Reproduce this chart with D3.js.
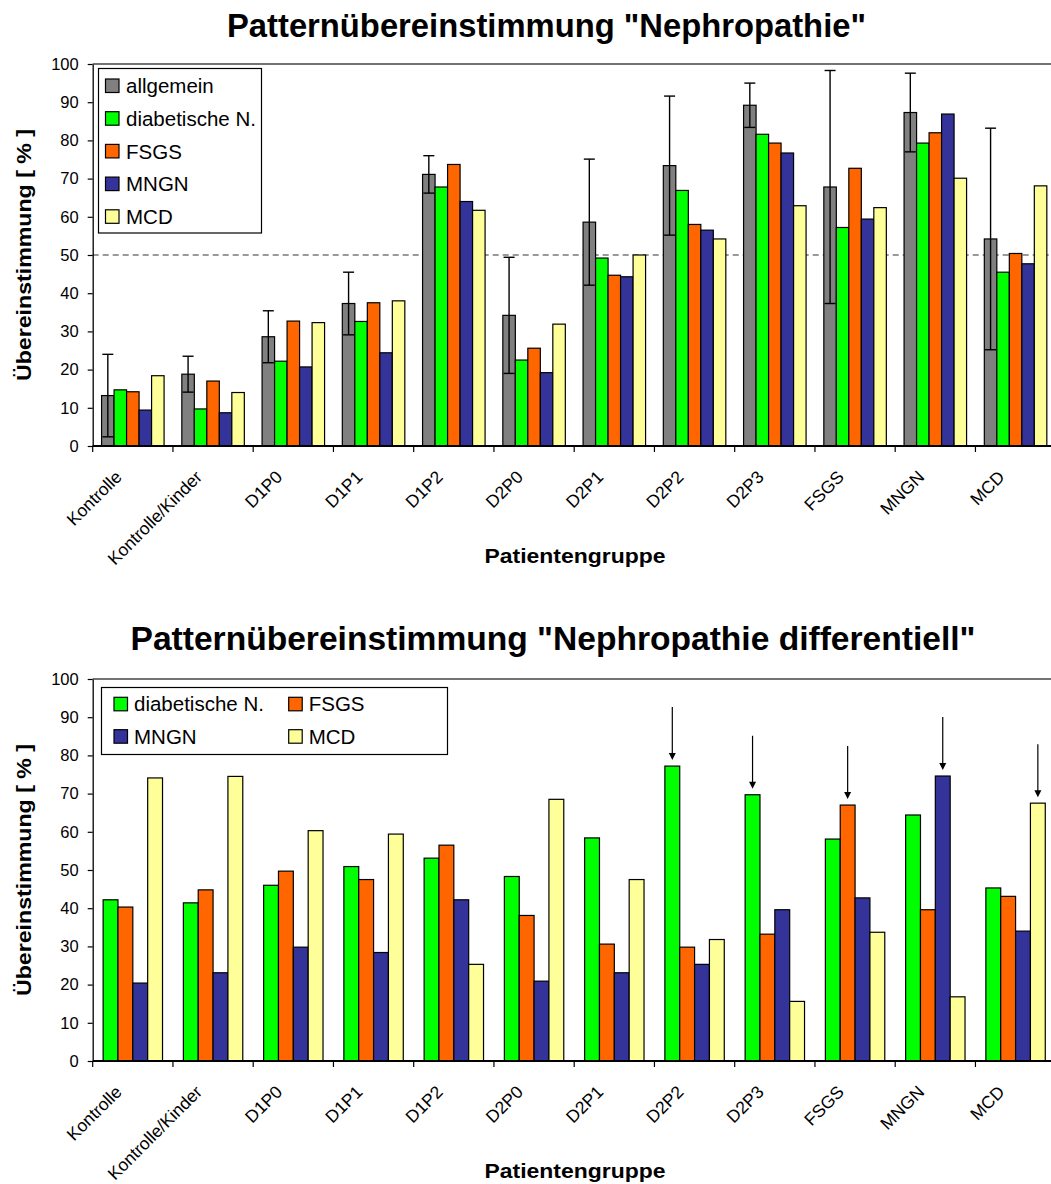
<!DOCTYPE html>
<html>
<head>
<meta charset="utf-8">
<script src="https://cdn.jsdelivr.net/npm/d3@7/dist/d3.min.js"></script>
<style>
  html, body { margin: 0; padding: 0; background: #fff; }
  svg { display: block; font-family: "Liberation Sans", Arial, sans-serif; }
</style>
</head>
<body>
<svg id="fig" width="1051" height="1184"></svg>
<script>
// ---- data ----
const categories = ["Kontrolle", "Kontrolle/Kinder", "D1P0", "D1P1", "D1P2", "D2P0",
                    "D2P1", "D2P2", "D2P3", "FSGS", "MNGN", "MCD"];
const yTicks = [0, 10, 20, 30, 40, 50, 60, 70, 80, 90, 100];

// chart 1: "Nephropathie"
const seriesTop = ["allgemein", "diabetische N.", "FSGS", "MNGN", "MCD"];
const topAllgemein   = [13.2, 18.8, 28.6, 37.3, 71.1, 34.2, 58.6, 73.4, 89.2, 67.8, 87.3, 54.2];
const topAllgemeinSD = [10.8,  4.7,  6.8,  8.2,  4.9, 15.2, 16.5, 18.2,  5.8, 30.5, 10.3, 29.0];
const topDiabetisch  = [14.7,  9.7, 22.2, 32.6, 67.8, 22.5, 49.2, 66.9, 81.6, 57.2, 79.3, 45.5];
const topFSGS        = [14.2, 17.0, 32.7, 37.5, 73.7, 25.6, 44.7, 58.0, 79.3, 72.7, 82.0, 50.4];
const topMNGN        = [ 9.4,  8.7, 20.7, 24.4, 64.0, 19.2, 44.3, 56.5, 76.7, 59.4, 86.9, 47.7];
const topMCD         = [18.4, 14.0, 32.3, 38.0, 61.7, 31.9, 50.0, 54.2, 62.9, 62.4, 70.1, 68.1];
const referenceLine  = 50;

// chart 2: "Nephropathie differentiell"
const seriesBottom = ["diabetische N.", "FSGS", "MNGN", "MCD"];
const botDiabetisch = [42.2, 41.4, 46.0, 50.9, 53.1, 48.3, 58.4, 77.2, 69.7, 58.1, 64.4, 45.3];
const botFSGS       = [40.3, 44.8, 49.7, 47.5, 56.5, 38.1, 30.6, 29.8, 33.2, 67.0, 39.6, 43.1];
const botMNGN       = [20.4, 23.1, 29.8, 28.4, 42.2, 20.9, 23.1, 25.3, 39.6, 42.7, 74.6, 34.0];
const botMCD        = [74.1, 74.5, 60.3, 59.4, 25.3, 68.5, 47.5, 31.8, 15.6, 33.7, 16.8, 67.5];
// the group each patient cohort is expected to match
const arrowCategories = ["D2P2", "D2P3", "FSGS", "MNGN", "MCD"];
const arrowSeries     = ["diabetische N.", "diabetische N.", "FSGS", "MNGN", "MCD"];

const colors = {
  "allgemein": "#808080",
  "diabetische N.": "#00ff00",
  "FSGS": "#ff6600",
  "MNGN": "#333399",
  "MCD": "#ffff99"
};

// ---- drawing ----
const svg = d3.select("#fig");
const W = 1051;
const xRange = [92.7, 1055.7];

function drawChart(cfg) {
  const g = svg.append("g");
  const y = d3.scaleLinear().domain([0, 100]).range([cfg.bottom, cfg.top]);
  const x0 = d3.scaleBand().domain(categories).range(xRange).padding(0);
  const bw = x0.bandwidth();
  const x1 = d3.scaleBand().domain(cfg.series)
    .range([(bw - cfg.groupWidth) / 2, (bw + cfg.groupWidth) / 2]).padding(0);

  // title
  g.append("text")
    .attr("x", cfg.titleX).attr("y", cfg.titleY)
    .attr("text-anchor", "middle")
    .attr("font-size", 32.5).attr("font-weight", "bold")
    .attr("textLength", cfg.titleLen).attr("lengthAdjust", "spacingAndGlyphs")
    .text(cfg.title);

  // plot frame top edge
  g.append("line")
    .attr("x1", xRange[0]).attr("x2", W)
    .attr("y1", y(100)).attr("y2", y(100))
    .attr("stroke", "#444").attr("stroke-width", 1.4);

  // reference line
  if (cfg.refLine != null) {
    g.append("line")
      .attr("x1", xRange[0]).attr("x2", W)
      .attr("y1", y(cfg.refLine)).attr("y2", y(cfg.refLine))
      .attr("stroke", "#999").attr("stroke-width", 1.8)
      .attr("stroke-dasharray", "6,4");
  }

  // bars
  cfg.series.forEach((s, si) => {
    g.append("g").selectAll("rect")
      .data(cfg.values[si])
      .join("rect")
      .attr("x", (d, i) => x0(categories[i]) + x1(s))
      .attr("y", d => y(d))
      .attr("width", x1.bandwidth())
      .attr("height", d => y(0) - y(d))
      .attr("fill", colors[s])
      .attr("stroke", "#000").attr("stroke-width", 1.2);
  });

  // error bars (±SD) on the first series
  if (cfg.sd) {
    const s = cfg.series[0];
    const eg = g.append("g").attr("stroke", "#000").attr("stroke-width", 1.4);
    cfg.values[0].forEach((v, i) => {
      const cx = x0(categories[i]) + x1(s) + x1.bandwidth() / 2;
      const hi = y(v + cfg.sd[i]), lo = y(v - cfg.sd[i]);
      eg.append("line").attr("x1", cx).attr("x2", cx).attr("y1", hi).attr("y2", lo);
      eg.append("line").attr("x1", cx - 5.5).attr("x2", cx + 5.5).attr("y1", hi).attr("y2", hi);
      eg.append("line").attr("x1", cx - 5.5).attr("x2", cx + 5.5).attr("y1", lo).attr("y2", lo);
    });
  }

  // arrows marking the expected match
  if (cfg.arrows) {
    const ag = g.append("g");
    cfg.arrows.cats.forEach((c, k) => {
      const s = cfg.arrows.series[k];
      const v = cfg.values[cfg.series.indexOf(s)][categories.indexOf(c)];
      const cx = x0(c) + x1(s) + x1.bandwidth() / 2;
      const tip = y(v) - 6;
      ag.append("line").attr("x1", cx).attr("x2", cx)
        .attr("y1", tip - 53).attr("y2", tip - 5)
        .attr("stroke", "#000").attr("stroke-width", 1.2);
      ag.append("path")
        .attr("d", `M${cx - 3.5},${tip - 7}L${cx + 3.5},${tip - 7}L${cx},${tip}Z`)
        .attr("fill", "#000");
    });
  }

  // y axis
  const yAxis = g.append("g")
    .attr("transform", `translate(${xRange[0]},0)`)
    .call(d3.axisLeft(y).tickValues(yTicks).tickSize(5).tickSizeOuter(0).tickPadding(9));
  yAxis.select(".domain").attr("stroke", "#000").attr("stroke-width", 1.3);
  yAxis.selectAll(".tick line").attr("stroke", "#000").attr("stroke-width", 1.2);
  yAxis.selectAll(".tick text")
    .attr("font-size", 16.5).attr("fill", "#000")
    .attr("font-family", "'Liberation Sans', Arial, sans-serif");

  // x axis: line, boundary ticks, rotated labels
  g.append("line")
    .attr("x1", xRange[0]).attr("x2", W)
    .attr("y1", y(0)).attr("y2", y(0))
    .attr("stroke", "#000").attr("stroke-width", 2);
  g.append("g").selectAll("line")
    .data(categories)
    .join("line")
    .attr("x1", c => x0(c)).attr("x2", c => x0(c))
    .attr("y1", y(0)).attr("y2", y(0) + 6)
    .attr("stroke", "#000").attr("stroke-width", 1.2);
  g.append("g").selectAll("text")
    .data(categories)
    .join("text")
    .attr("transform", c => `translate(${x0(c) + bw / 2 - 10},${y(0) + 32}) rotate(-45)`)
    .attr("text-anchor", "end")
    .attr("font-size", 17.5)
    .text(c => c);

  // axis titles
  g.append("text")
    .attr("transform", `translate(31,${(y(0) + y(100)) / 2}) rotate(-90)`)
    .attr("text-anchor", "middle")
    .attr("font-size", 21).attr("font-weight", "bold")
    .attr("textLength", 252).attr("lengthAdjust", "spacingAndGlyphs")
    .text("Übereinstimmung  [ % ]");
  g.append("text")
    .attr("x", 575).attr("y", cfg.xTitleY)
    .attr("text-anchor", "middle")
    .attr("font-size", 20.5).attr("font-weight", "bold")
    .attr("textLength", 181).attr("lengthAdjust", "spacingAndGlyphs")
    .text("Patientengruppe");

  // legend
  const L = cfg.legend;
  const lg = g.append("g");
  lg.append("rect")
    .attr("x", L.x).attr("y", L.y).attr("width", L.w).attr("height", L.h)
    .attr("fill", "#fff").attr("stroke", "#000").attr("stroke-width", 1.2);
  cfg.series.forEach((s, i) => {
    const col = i % L.cols, row = Math.floor(i / L.cols);
    const sx = L.colX[col], cy = L.rowY[row];
    lg.append("rect")
      .attr("x", sx).attr("y", cy - 7).attr("width", 13.5).attr("height", 13.5)
      .attr("fill", colors[s]).attr("stroke", "#000").attr("stroke-width", 1.2);
    lg.append("text")
      .attr("x", sx + L.textDx).attr("y", cy)
      .attr("dy", "0.35em")
      .attr("font-size", 20.5)
      .text(s);
  });
}

drawChart({
  top: 64, bottom: 446,
  title: "Patternübereinstimmung \"Nephropathie\"",
  titleX: 546.5, titleY: 37, titleLen: 639,
  series: seriesTop,
  values: [topAllgemein, topDiabetisch, topFSGS, topMNGN, topMCD],
  sd: topAllgemeinSD,
  refLine: referenceLine,
  groupWidth: 62.5,
  xTitleY: 563,
  legend: { x: 98.5, y: 68.5, w: 163, h: 164.5, cols: 1,
            colX: [105.5], rowY: [86, 118.7, 151.4, 184.1, 216.8], textDx: 20.5 }
});

drawChart({
  top: 679, bottom: 1061,
  title: "Patternübereinstimmung \"Nephropathie differentiell\"",
  titleX: 553, titleY: 650, titleLen: 845,
  series: seriesBottom,
  values: [botDiabetisch, botFSGS, botMNGN, botMCD],
  groupWidth: 59.4,
  xTitleY: 1178,
  arrows: { cats: arrowCategories, series: arrowSeries },
  legend: { x: 101.5, y: 687.5, w: 346, h: 67, cols: 2,
            colX: [114, 288.7], rowY: [704.3, 736.7], textDx: 20 }
});
</script>
</body>
</html>
